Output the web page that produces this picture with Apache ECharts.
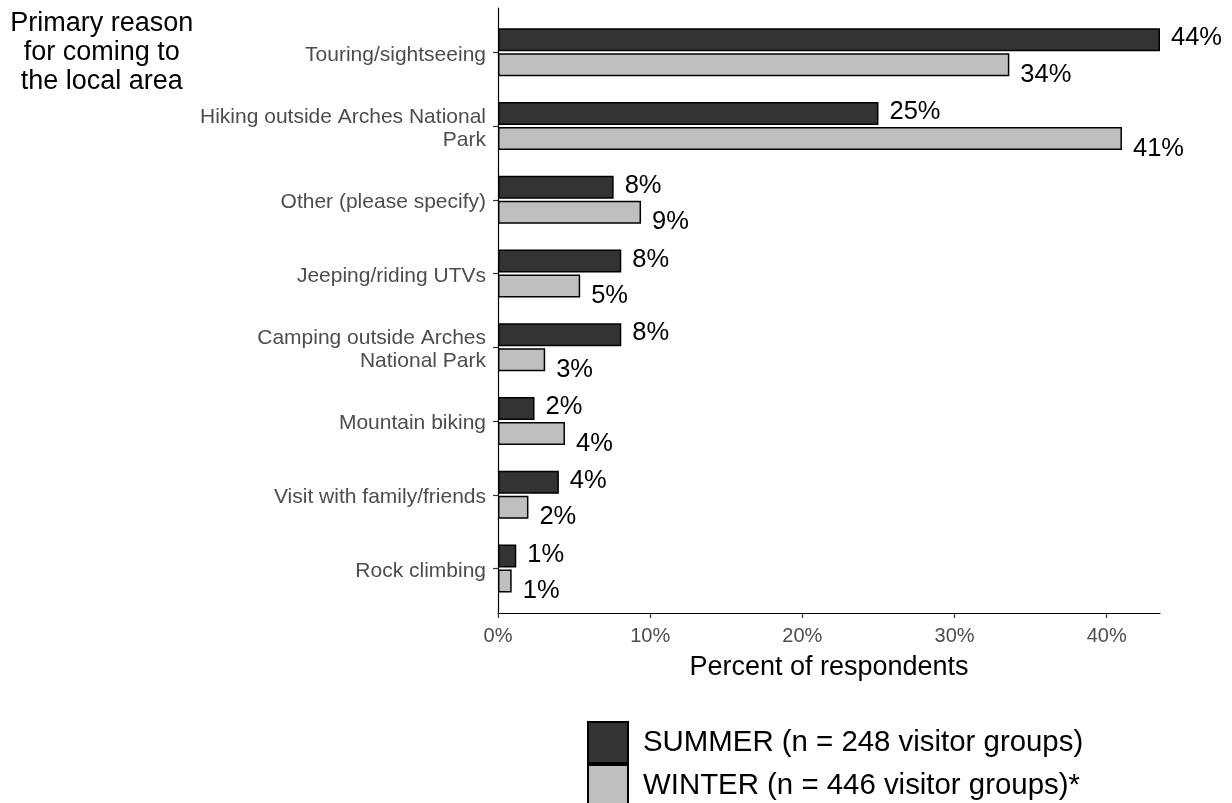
<!DOCTYPE html>
<html>
<head>
<meta charset="utf-8">
<script src="https://cdn.jsdelivr.net/npm/echarts@6/dist/echarts.min.js"></script>
<style>
  html, body { margin: 0; padding: 0; background: #ffffff; }
  #chart { width: 1232px; height: 803px; }
</style>
</head>
<body>
<div id="chart"></div>
<script>
// ---- Data ----
const categories = [
  'Touring/sightseeing',
  'Hiking outside Arches National\nPark',
  'Other (please specify)',
  'Jeeping/riding UTVs',
  'Camping outside Arches\nNational Park',
  'Mountain biking',
  'Visit with family/friends',
  'Rock climbing'
];
const summerValues = [43.5, 25.0, 7.6, 8.1, 8.1, 2.4, 4.0, 1.2];
const winterValues = [33.6, 41.0, 9.4, 5.4, 3.1, 4.4, 2.0, 0.9];
const seriesNames = ['SUMMER (n = 248 visitor groups)', 'WINTER (n = 446 visitor groups)*'];
const xTickInterval = 10;
const titleText = 'Primary reason\nfor coming to\nthe local area';
const xAxisTitle = 'Percent of respondents';

// ---- Chart ----
const FONT = "'Liberation Sans', Arial, Helvetica, sans-serif";
const xMax = Math.max(...summerValues, ...winterValues);
const chart = echarts.init(document.getElementById('chart'), null, { renderer: 'canvas' });

const labelFmt = p => Math.round(p.value) + '%';

const legendBase = {
  orient: 'vertical',
  left: 587,
  padding: 0,
  itemGap: 2,
  itemWidth: 40,
  itemHeight: 41,
  icon: 'rect',
  selectedMode: false,
  textStyle: { fontFamily: FONT, fontSize: 29.4, color: '#000000', padding: [4, 0, 0, 10] }
};

// small spacer line on top nudges every label block a little below its tick
const catLabelFmt = v => '{s| }\n' + v.split('\n').map(l => '{d|' + l + '}').join('\n');

const option = {
  animation: false,
  backgroundColor: '#ffffff',
  textStyle: { fontFamily: FONT },
  title: {
    text: titleText,
    left: 101.7,
    top: 9,
    padding: 0,
    textAlign: 'center',
    textStyle: { fontFamily: FONT, fontSize: 27, fontWeight: 'normal', color: '#000000', lineHeight: 29 }
  },
  legend: [
    Object.assign({}, legendBase, { top: 721, data: [seriesNames[0]] }),
    Object.assign({}, legendBase, { top: 764, data: [seriesNames[1]] })
  ],
  grid: [
    { left: 498, right: 72, top: 8, bottom: 190 },
    { left: 498, right: 72, top: 15.4, bottom: 197.6 }
  ],
  xAxis: [
    {
      gridIndex: 0,
      type: 'value',
      min: 0,
      max: xMax,
      interval: xTickInterval,
      name: xAxisTitle,
      nameLocation: 'middle',
      nameGap: 41,
      nameTextStyle: { fontFamily: FONT, fontSize: 27, color: '#000000' },
      axisLine: { show: true, lineStyle: { color: '#000000', width: 1.2 } },
      axisTick: { show: true, length: 5, lineStyle: { color: '#333333', width: 1.2 } },
      axisLabel: { show: true, margin: 13, fontFamily: FONT, fontSize: 20, color: '#4d4d4d', formatter: '{value}%', showMaxLabel: false },
      splitLine: { show: false }
    },
    {
      gridIndex: 1,
      type: 'value',
      min: 0,
      max: xMax,
      show: false,
      splitLine: { show: false }
    }
  ],
  yAxis: [
    {
      gridIndex: 0,
      type: 'value',
      min: 0,
      max: 1,
      axisLine: { show: true, lineStyle: { color: '#000000', width: 1.2 } },
      axisTick: { show: false },
      axisLabel: { show: false },
      splitLine: { show: false }
    },
    {
      gridIndex: 1,
      type: 'category',
      inverse: true,
      data: categories,
      axisLine: { show: false },
      axisTick: { show: true, length: 5, alignWithLabel: true, lineStyle: { color: '#333333', width: 1.2 } },
      axisLabel: {
        margin: 12,
        align: 'right',
        formatter: catLabelFmt,
        rich: {
          s: { fontFamily: FONT, fontSize: 1, lineHeight: 5 },
          d: { fontFamily: FONT, fontSize: 21, color: '#4d4d4d', lineHeight: 23 }
        }
      },
      splitLine: { show: false }
    }
  ],
  series: [
    {
      name: seriesNames[0],
      type: 'bar',
      xAxisIndex: 1,
      yAxisIndex: 1,
      data: summerValues,
      barWidth: 23,
      barGap: '9%',
      itemStyle: { color: '#333333', borderColor: '#000000', borderWidth: 1.5 },
      label: { show: true, position: 'right', distance: 11, offset: [0, -1.5], formatter: labelFmt, fontFamily: FONT, fontSize: 25.5, color: '#000000' }
    },
    {
      name: seriesNames[1],
      type: 'bar',
      xAxisIndex: 1,
      yAxisIndex: 1,
      data: winterValues,
      barWidth: 23,
      barGap: '9%',
      itemStyle: { color: '#bfbfbf', borderColor: '#000000', borderWidth: 1.5 },
      label: { show: true, position: 'right', distance: 11, offset: [0, 10], formatter: labelFmt, fontFamily: FONT, fontSize: 25.5, color: '#000000' }
    }
  ]
};
chart.setOption(option);
</script>
</body>
</html>
